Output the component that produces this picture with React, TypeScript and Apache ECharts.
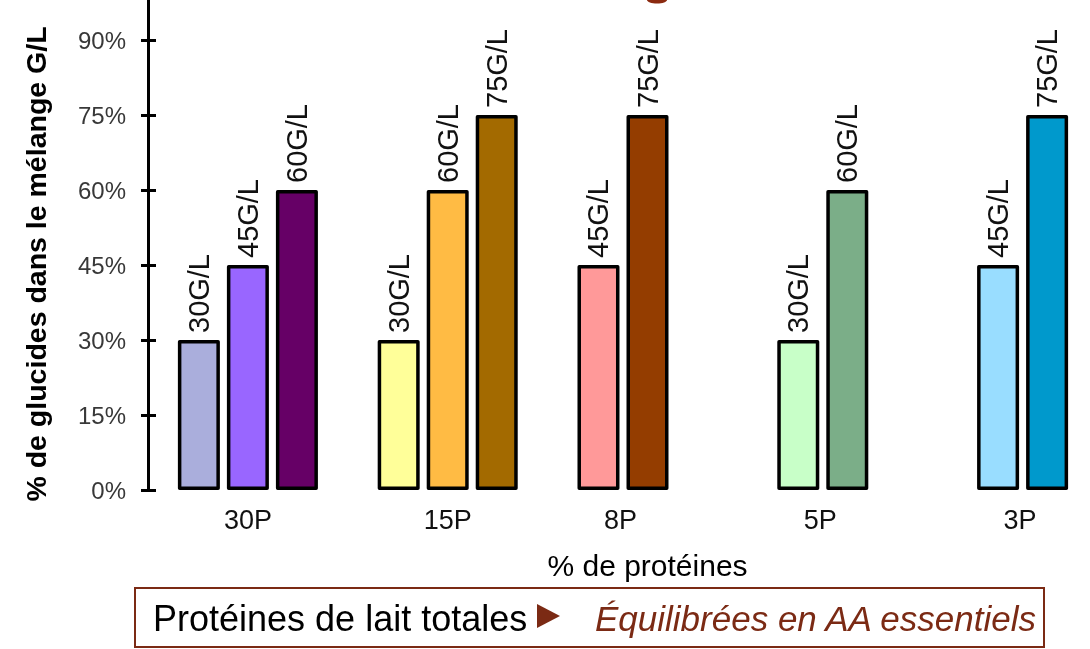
import React, { useEffect, useRef } from 'react';
import * as echarts from 'echarts';

const categories = ['30P', '15P', '8P', '5P', '3P'];
const barsPerGroup = [3, 3, 2, 2, 2];
const firstBar = [30, 30, 45, 30, 45];
const secondBar = [45, 60, 75, 60, 75];
const thirdBar: (number | null)[] = [60, 75, null, null, null];
const firstColors = ['#AAAEDC', '#FFFF99', '#FF9999', '#C8FFC8', '#99DDFF'];
const secondColors = ['#9966FF', '#FFBB44', '#943D00', '#7BAE88', '#0099CC'];
const thirdColors = ['#660066', '#A36A00', '#000', '#000', '#000'];
const yTicks = [0, 15, 30, 45, 60, 75, 90];
const yName = '% de glucides dans le mélange G/L';
const xName = '% de protéines';
const noteLeft = 'Protéines de lait totales';
const noteRight = 'Équilibrées en AA essentiels';

const FONT = '"Liberation Sans", Arial, sans-serif';
const BROWN = '#7B2A14';

function makeSeries(vals: (number | null)[], cols: string[]) {
  return {
    type: 'bar',
    barWidth: 42,
    barGap: '16.7%',
    data: vals.map((v, i) => (v == null ? null : { value: v, itemStyle: { color: cols[i] } })),
    itemStyle: { borderColor: '#000', borderWidth: 3.5, borderJoin: 'round' },
    label: {
      show: true,
      position: 'top',
      rotate: 90,
      align: 'left',
      verticalAlign: 'middle',
      distance: 7,
      formatter: (p: any) => `${p.value}G/L`,
      fontSize: 29,
      fontFamily: FONT,
      color: '#111',
    },
  };
}

export default function App() {
  const ref = useRef<HTMLDivElement>(null);
  useEffect(() => {
    document.body.style.margin = '0';
    const chart = echarts.init(ref.current!, null, { renderer: 'svg' });
    const tickCommon = {
      type: 'value',
      min: 0,
      max: 100,
      interval: 15,
      splitLine: { show: false },
    };
    chart.setOption({
      animation: false,
      grid: { left: 148, right: -57, top: -10, bottom: 159, containLabel: false, outerBoundsMode: 'none' },
      xAxis: {
        type: 'category',
        data: categories,
        axisLine: { show: false },
        axisTick: { show: false },
        axisLabel: {
          margin: 16,
          formatter: (v: string, i: number) => (barsPerGroup[i] === 3 ? `{a|${v}}` : `{b|${v}}`),
          rich: {
            a: { fontSize: 27, fontFamily: FONT, color: '#111' },
            b: { fontSize: 27, fontFamily: FONT, color: '#111', padding: [0, 54, 0, 0] },
          },
        },
        name: xName,
        nameLocation: 'middle',
        nameGap: 60,
        nameTextStyle: { fontSize: 30, fontFamily: FONT, color: '#000' },
      },
      yAxis: [
        {
          ...tickCommon,
          axisLine: { show: true, lineStyle: { color: '#000', width: 3 } },
          axisTick: { show: true, length: 7, lineStyle: { color: '#000', width: 3 }, customValues: yTicks },
          axisLabel: {
            margin: 22,
            customValues: yTicks,
            formatter: (v: number) => (yTicks.includes(v) ? `${v}%` : ''),
            fontSize: 24,
            fontFamily: FONT,
            color: '#383838',
          },
        },
        {
          ...tickCommon,
          position: 'left',
          axisLine: { show: false },
          axisTick: { show: true, inside: true, length: 8, lineStyle: { color: '#000', width: 3 }, customValues: yTicks },
          axisLabel: { show: false },
        },
      ],
      series: [
        makeSeries(firstBar, firstColors),
        makeSeries(secondBar, secondColors),
        makeSeries(thirdBar, thirdColors),
      ],
      graphic: [
        {
          type: 'text',
          x: 36,
          y: 264,
          rotation: Math.PI / 2,
          style: { text: yName, fontSize: 28.5, fontWeight: 'bold', fontFamily: FONT, fill: '#000', align: 'center', verticalAlign: 'middle' },
        },
        {
          type: 'rect',
          shape: { x: 135, y: 588, width: 909, height: 59 },
          style: { fill: '#fff', stroke: BROWN, lineWidth: 2 },
        },
        {
          type: 'text',
          x: 153,
          y: 618,
          style: { text: noteLeft, fontSize: 36, fontFamily: FONT, fill: '#000', align: 'left', verticalAlign: 'middle' },
        },
        {
          type: 'polygon',
          shape: { points: [[537, 604], [537, 628], [560, 616]] },
          style: { fill: BROWN },
        },
        {
          type: 'text',
          x: 595,
          y: 618,
          style: { text: noteRight, fontSize: 35, fontStyle: 'italic', fontFamily: FONT, fill: BROWN, align: 'left', verticalAlign: 'middle' },
        },
        { type: 'ellipse', shape: { cx: 657, cy: 0, rx: 10, ry: 3.5 }, style: { fill: '#8B2A10' } },
      ],
    });
    return () => chart.dispose();
  }, []);
  return <div ref={ref} style={{ position: 'fixed', left: 0, top: 0, width: 1090, height: 649 }} />;
}
